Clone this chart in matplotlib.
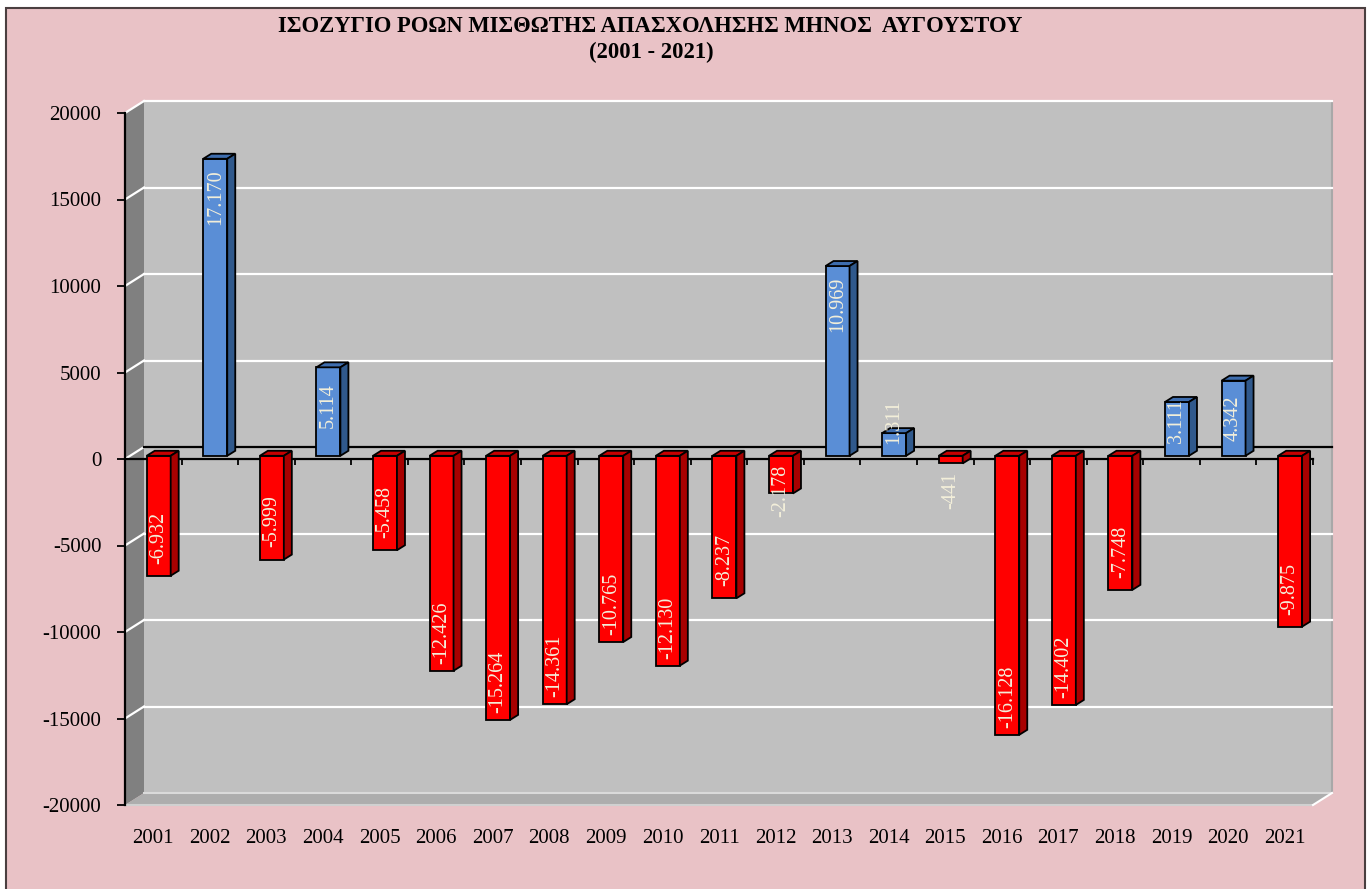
import matplotlib
matplotlib.use("Agg")
import matplotlib.pyplot as plt
from matplotlib.patches import Rectangle, Polygon
import numpy as np

plt.rcParams['font.family'] = ['Liberation Serif', 'DejaVu Serif']

years = ['2001', '2002', '2003', '2004', '2005', '2006', '2007', '2008', '2009', '2010', '2011',
         '2012', '2013', '2014', '2015', '2016', '2017', '2018', '2019', '2020', '2021']
values = [-6932, 17170, -5999, 5114, -5458, -12426, -15264, -14361, -10765, -12130, -8237,
          -2178, 10969, 1311, -441, -16128, -14402, -7748, 3111, 4342, -9875]
y_ticks = [-20000, -15000, -10000, -5000, 0, 5000, 10000, 15000, 20000]
title_line1 = 'ΙΣΟΖΥΓΙΟ ΡΟΩΝ ΜΙΣΘΩΤΗΣ ΑΠΑΣΧΟΛΗΣΗΣ ΜΗΝΟΣ  ΑΥΓΟΥΣΤΟΥ'
title_line2 = '(2001 - 2021)'

W, H = 1370, 889
fig = plt.figure(figsize=(W / 100, H / 100), dpi=100)
fig.patch.set_facecolor('white')

# pink chart area with dark frame (no bottom edge visible)
fig.patches.append(Rectangle((6 / W, -0.02), (1365 - 6) / W, (H - 8) / H + 0.02,
                             transform=fig.transFigure, facecolor='#E9C2C6',
                             edgecolor='#4A3F40', linewidth=1.5, zorder=-10))

# axes = front plane of 3D plot
ax_l, ax_r, ax_t, ax_b = 125, 1313, 113, 805
ax = fig.add_axes([ax_l / W, (H - ax_b) / H, (ax_r - ax_l) / W, (ax_b - ax_t) / H])
ax.set_facecolor('none')
n = len(values)
ax.set_xlim(-0.5, n - 0.5)
ax.set_ylim(y_ticks[0], y_ticks[-1])
px_x = n / (ax_r - ax_l)
px_y = (y_ticks[-1] - y_ticks[0]) / (ax_b - ax_t)

# 3D depth offsets
dxd, dyd = 19 * px_x, 12 * px_y
x_left, x_right = -0.5, n - 0.5
ymin, ymax = y_ticks[0], y_ticks[-1]

# back wall
ax.add_patch(Polygon([(x_left + dxd, ymin + dyd), (x_right + dxd, ymin + dyd),
                      (x_right + dxd, ymax + dyd), (x_left + dxd, ymax + dyd)], closed=True,
                     facecolor='#C0C0C0', edgecolor='none', zorder=0, clip_on=False))
ax.plot([x_right + dxd, x_right + dxd], [ymin + dyd, ymax + dyd], color='#A8A8A8', lw=1.5,
        zorder=0.5, clip_on=False)
# side wall
ax.add_patch(Polygon([(x_left, ymin), (x_left, ymax), (x_left + dxd, ymax + dyd),
                      (x_left + dxd, ymin + dyd)], closed=True, facecolor='#808080',
                     edgecolor='none', zorder=0.2, clip_on=False))
# floor
ax.add_patch(Polygon([(x_left, ymin), (x_right, ymin), (x_right + dxd, ymin + dyd),
                      (x_left + dxd, ymin + dyd)], closed=True, facecolor='#ADADAD',
                     edgecolor='none', zorder=0.2, clip_on=False))
ax.plot([x_left + dxd, x_right + dxd], [ymin + dyd, ymin + dyd], color='#DADADA', lw=1.5,
        zorder=0.6, clip_on=False)
ax.plot([x_left, x_right], [ymin, ymin], color='#D0D0D0', lw=1.5, zorder=0.6, clip_on=False)
ax.plot([x_right, x_right + dxd], [ymin, ymin + dyd], color='white', lw=1.5, zorder=0.6,
        clip_on=False)

# gridlines on back wall and side wall
for t in y_ticks[1:]:
    if t == 0:
        continue
    ax.plot([x_left + dxd, x_right + dxd], [t + dyd, t + dyd], color='white', lw=1.6,
            zorder=0.7, clip_on=False)
for t in y_ticks[1:]:
    ax.plot([x_left, x_left + dxd], [t, t + dyd], color='white', lw=1.6, zorder=0.7,
            clip_on=False)
# zero line on back wall and front
ax.plot([x_left + dxd, x_right + dxd], [dyd, dyd], color='black', lw=1.6, zorder=0.8,
        clip_on=False)
ax.plot([x_left, x_right], [0, 0], color='black', lw=1.6, zorder=0.8, clip_on=False)
ax.vlines(np.arange(n) + 0.5, -6 * px_y, 0, color='black', lw=1.3, zorder=0.8, clip_on=False)

# bars
xpos = np.arange(n)
off_x, off_y = 5.4 * px_x, 3.2 * px_y
bw = 24 * px_x
ddx, ddy = 8 * px_x, 5 * px_y
front_cols = ['#5A8ED6' if v > 0 else '#FF0000' for v in values]
top_cols = ['#3E6DAE' if v > 0 else '#C80000' for v in values]
side_cols = ['#30598C' if v > 0 else '#A80000' for v in values]

ax.bar(xpos + off_x, values, width=bw, bottom=off_y, color=front_cols, edgecolor='black',
       linewidth=1.3, zorder=3)
for i, v in enumerate(values):
    x0 = i + off_x - bw / 2
    x1 = x0 + bw
    ylo = min(0, v) + off_y
    yhi = max(0, v) + off_y
    ax.add_patch(Polygon([(x0, yhi), (x1, yhi), (x1 + ddx, yhi + ddy), (x0 + ddx, yhi + ddy)],
                         closed=True, facecolor=top_cols[i], edgecolor='black', lw=1.3,
                         zorder=3.1, clip_on=False))
    ax.add_patch(Polygon([(x1, ylo), (x1, yhi), (x1 + ddx, yhi + ddy), (x1 + ddx, ylo + ddy)],
                         closed=True, facecolor=side_cols[i], edgecolor='black', lw=1.3,
                         zorder=3.1, clip_on=False))
    s = np.sign(v)
    center = s * max(abs(v) - 2200, 2000) + off_y
    lab = f"{v:,}".replace(',', '.')
    ax.text(i + off_x, center, lab, rotation=90, ha='center', va='center', fontsize=14.5,
            color='#F3EFDA', zorder=5)

# axes styling
for sp in ['top', 'right', 'bottom']:
    ax.spines[sp].set_visible(False)
ax.spines['left'].set_linewidth(1.6)
ax.spines['left'].set_zorder(1)
ax.set_yticks(y_ticks)
ax.set_yticklabels([str(t) for t in y_ticks])
ax.tick_params(axis='y', direction='out', length=6, width=1.3, pad=11, labelsize=15)
ax.set_xticks(xpos)
ax.set_xticklabels(years)
ax.tick_params(axis='x', length=0, pad=17, labelsize=15)

fig.text(650 / W, 1 - 27 / H, title_line1, ha='center', va='center', fontsize=16.3,
         fontweight='bold')
fig.text(651 / W, 1 - 52 / H, title_line2, ha='center', va='center', fontsize=16.3,
         fontweight='bold')

fig.savefig('out.png', dpi=100)
